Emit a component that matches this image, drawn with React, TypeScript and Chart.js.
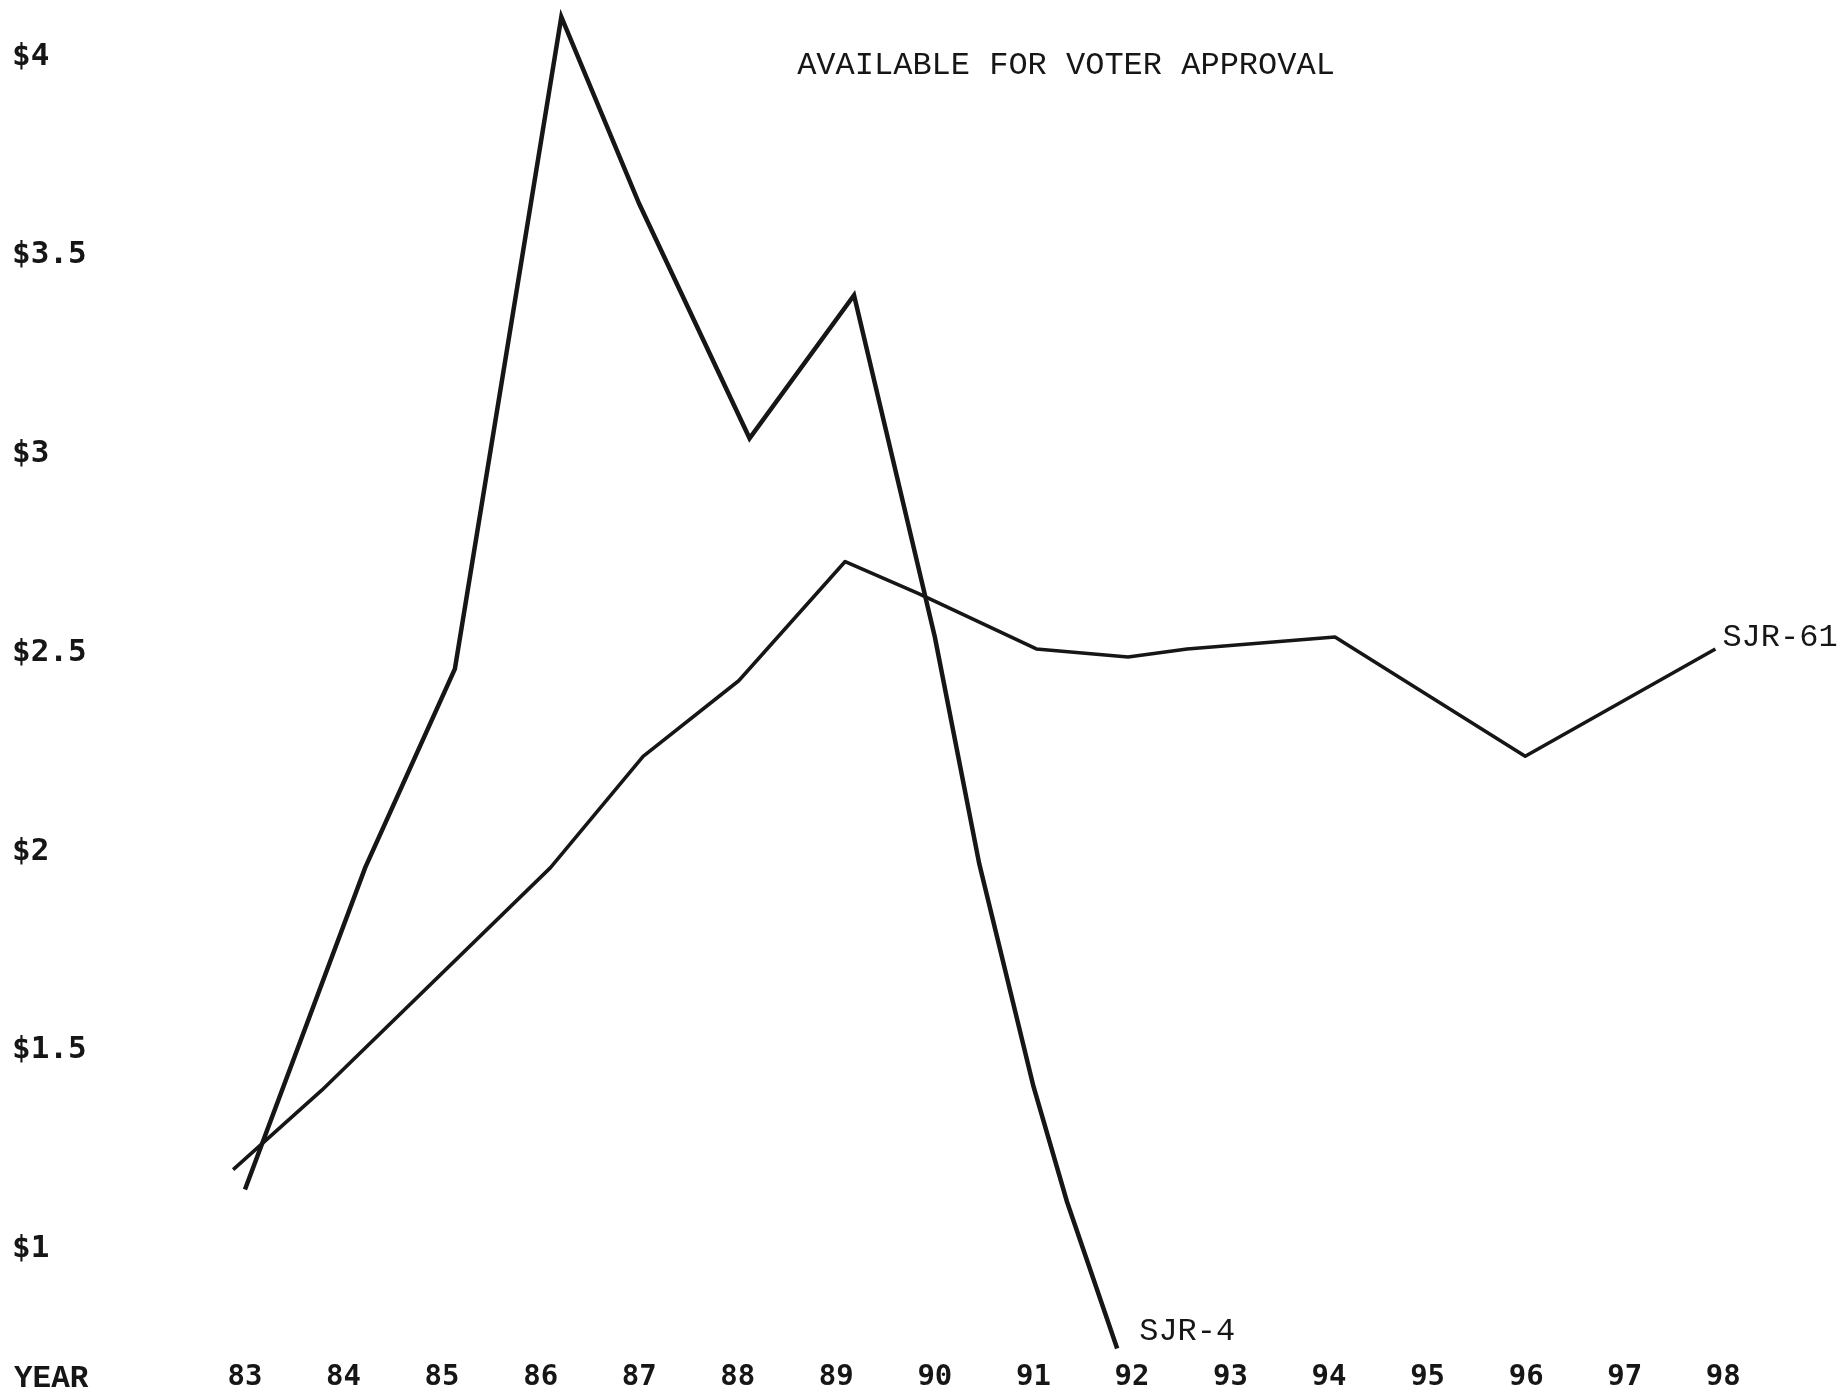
import React, { useEffect, useRef } from "react";
import { Chart, registerables } from "chart.js";

Chart.register(...registerables);

// ---- data ----
const TITLE = "AVAILABLE FOR VOTER APPROVAL";
const X_AXIS_NAME = "YEAR";

const xTickYears = [83, 84, 85, 86, 87, 88, 89, 90, 91, 92, 93, 94, 95, 96, 97, 98];
const yTickValues = [1, 1.5, 2, 2.5, 3, 3.5, 4];

const sjr4Label = "SJR-4";
const sjr4Years = [83.0, 84.22, 85.13, 86.21, 87.0, 88.12, 89.18, 90.0, 90.45, 91.0, 91.34, 91.85];
const sjr4Values = [1.15, 1.96, 2.46, 4.1, 3.63, 3.04, 3.4, 2.54, 1.97, 1.41, 1.12, 0.75];

const sjr61Label = "SJR-61";
const sjr61Years = [82.88, 83.78, 86.1, 87.04, 88.01, 89.09, 89.83, 91.03, 91.96, 92.56, 94.06, 95.99, 97.92];
const sjr61Values = [1.2, 1.4, 1.96, 2.24, 2.43, 2.73, 2.65, 2.51, 2.49, 2.51, 2.54, 2.24, 2.51];

const INK = "#161616";

const annotatePlugin = {
  id: "annotate",
  afterDatasetsDraw(chart: any) {
    const ctx = chart.ctx as CanvasRenderingContext2D;
    ctx.save();
    ctx.fillStyle = INK;
    ctx.textBaseline = "middle";

    // title
    ctx.font = '32px "Courier New", "Liberation Mono", monospace';
    ctx.textAlign = "center";
    ctx.fillText(TITLE, 1066, 66);

    // series end labels
    const offsets = [
      { dx: 22, dy: -17 },
      { dx: 7, dy: -11 },
    ];
    chart.data.datasets.forEach((ds: any, i: number) => {
      const meta = chart.getDatasetMeta(i);
      const last = meta.data[meta.data.length - 1];
      if (!last) return;
      ctx.textAlign = "left";
      ctx.font = '32px "Courier New", "Liberation Mono", monospace';
      ctx.fillText(ds.label, last.x + offsets[i].dx, last.y + offsets[i].dy);
    });

    // axis name "YEAR"
    const xs = chart.scales.x;
    ctx.font = 'bold 31px "Courier New", "Liberation Mono", monospace';
    ctx.textAlign = "left";
    ctx.fillText(X_AXIS_NAME, 14, xs.top + 19);
    ctx.restore();
  },
};

export default function App() {
  const ref = useRef<HTMLCanvasElement | null>(null);

  useEffect(() => {
    if (!ref.current) return;
    const chart = new Chart(ref.current, {
      type: "line",
      data: {
        datasets: [
          {
            label: sjr4Label,
            data: sjr4Years.map((x, i) => ({ x, y: sjr4Values[i] })),
            borderColor: INK,
            borderWidth: 4.5,
            pointRadius: 0,
            tension: 0,
            fill: false,
            clip: false as any,
            borderJoinStyle: "miter",
          },
          {
            label: sjr61Label,
            data: sjr61Years.map((x, i) => ({ x, y: sjr61Values[i] })),
            borderColor: INK,
            borderWidth: 3.6,
            pointRadius: 0,
            tension: 0,
            fill: false,
            clip: false as any,
            borderJoinStyle: "round",
          },
        ],
      },
      options: {
        responsive: false,
        animation: false,
        devicePixelRatio: 1,
        layout: { padding: { left: 12, top: 9, right: 105, bottom: 0 } },
        plugins: {
          legend: { display: false },
          tooltip: { enabled: false },
          title: { display: false },
        },
        scales: {
          x: {
            type: "linear",
            min: 82.7,
            max: 98.2,
            grid: { display: false, drawTicks: false },
            border: { display: false },
            afterBuildTicks: (s: any) => {
              s.ticks = xTickYears.map((v) => ({ value: v }));
            },
            afterFit: (s: any) => {
              s.height = 39.5;
              s.paddingLeft = 0;
              s.paddingRight = 0;
            },
            ticks: {
              autoSkip: false,
              maxRotation: 0,
              padding: 2,
              color: INK,
              font: { family: '"DejaVu Sans Mono", monospace', size: 29, weight: "bold", lineHeight: 1 },
              callback: (v: any) => String(v),
            },
          },
          y: {
            type: "linear",
            min: 0.72,
            max: 4.12,
            grid: { display: false, drawTicks: false },
            border: { display: false },
            afterBuildTicks: (s: any) => {
              s.ticks = yTickValues.map((v) => ({ value: v }));
            },
            afterFit: (s: any) => {
              s.width = 203.4;
              s.paddingTop = 0;
              s.paddingBottom = 0;
            },
            ticks: {
              crossAlign: "far",
              padding: 0,
              color: INK,
              font: { family: '"DejaVu Sans Mono", monospace', size: 31, weight: "bold" },
              callback: (v: any) => "$" + v,
            },
          },
        },
      },
      plugins: [annotatePlugin],
    });
    return () => chart.destroy();
  }, []);

  return (
    <div style={{ position: "absolute", left: 0, top: 0, width: 1848, height: 1400, background: "#fff" }}>
      <canvas ref={ref} width={1848} height={1400} />
    </div>
  );
}
